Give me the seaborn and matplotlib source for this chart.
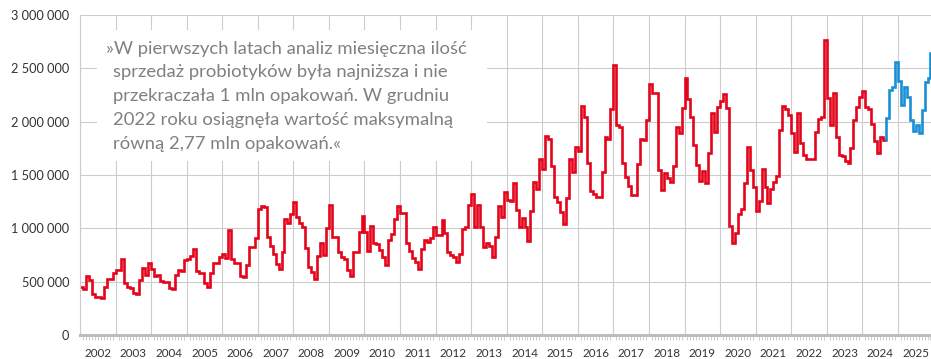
import numpy as np
import pandas as pd
import matplotlib
matplotlib.use("Agg")
import matplotlib.pyplot as plt
import seaborn as sns
from matplotlib.ticker import FixedLocator, FuncFormatter, MultipleLocator
from matplotlib.patches import Rectangle

# Monthly probiotic sales, thousands of packs, January 2002 - August 2024
history = [
    447, 428, 553, 516, 384, 353, 353, 345, 447, 522, 522, 584,          # 2002
    609, 609, 709, 484, 453, 438, 391, 384, 516, 625, 563, 672,          # 2003
    616, 553, 560, 509, 500, 500, 438, 428, 563, 609, 603, 700,          # 2004
    709, 741, 810, 603, 578, 578, 484, 447, 584, 678, 678, 728,          # 2005
    759, 720, 984, 709, 678, 678, 553, 540, 656, 822, 822, 906,          # 2006
    1178, 1212, 1200, 922, 834, 759, 666, 616, 781, 1084, 1053, 1131,    # 2007
    1250, 1109, 1053, 1016, 812, 641, 594, 522, 741, 860, 750, 1000,     # 2008
    1219, 922, 922, 781, 728, 709, 609, 553, 781, 781, 969, 1116,        # 2009
    969, 791, 1022, 866, 853, 797, 728, 656, 891, 950, 1084, 1209,       # 2010
    1141, 1147, 859, 791, 719, 688, 616, 803, 891, 869, 906, 1009,       # 2011
    941, 941, 1075, 953, 781, 750, 734, 688, 759, 991, 1009, 1219,       # 2012
    1322, 1016, 1219, 1016, 822, 866, 834, 728, 916, 1209, 1103, 1344,   # 2013
    1266, 1259, 1428, 1172, 1009, 1094, 1009, 884, 1166, 1438, 1366, 1647,  # 2014
    1553, 1866, 1834, 1584, 1297, 1250, 1153, 1041, 1281, 1647, 1531, 1759,  # 2015
    1728, 2147, 2047, 1616, 1353, 1322, 1291, 1291, 1531, 1853, 1834, 2116,  # 2016
    2531, 1969, 1953, 1616, 1484, 1397, 1313, 1313, 1603, 1834, 1828, 2016,  # 2017
    2353, 2266, 2266, 1547, 1359, 1516, 1469, 1438, 1584, 1953, 1891, 2125,  # 2018
    2406, 2209, 2047, 1781, 1594, 1447, 1541, 1422, 1703, 2078, 1906, 2141,  # 2019
    2197, 2259, 2125, 1022, 866, 959, 1134, 1178, 1428, 1759, 1547, 1391,    # 2020
    1166, 1259, 1553, 1384, 1234, 1366, 1438, 1491, 1922, 2147, 2116, 2063,  # 2021
    1897, 1719, 2084, 1797, 1688, 1647, 1647, 1647, 1906, 2022, 2041, 2770,  # 2022
    2219, 1969, 2266, 1859, 1691, 1681, 1628, 1616, 1753, 2016, 2134, 2228,  # 2023
    2291, 2134, 2116, 1980, 1822, 1706, 1859, 1828,                          # 2024
]

# Latest months, September 2024 - December 2025
recent = [
    2031, 2297, 2322, 2563,                                              # 2024
    2384, 2156, 2322, 2228, 2016, 1916, 1969, 1897, 2109, 2375, 2406, 2641,  # 2025
]

first_year = 2002
year_labels = [str(y) for y in range(2002, 2026)]
y_ticks = [0, 500, 1000, 1500, 2000, 2500, 3000]

note_lines = [
    "»W pierwszych latach analiz miesięczna ilość",
    "sprzedaż probiotyków była najniższa i nie",
    "przekraczała 1 mln opakowań. W grudniu",
    "2022 roku osiągnęła wartość maksymalną",
    "równą 2,77 mln opakowań.«",
]

RED = "#e3051b"
BLUE = "#1a8fd5"
GRID = "#cccccc"

# Step series: each month holds its value until the next month starts
n_hist = len(history)
t_hist = first_year + np.arange(n_hist + 1) / 12
v_hist = history + [history[-1]]
start_recent = first_year + n_hist / 12
t_recent = np.concatenate([[start_recent],
                           start_recent + np.arange(len(recent) + 1) / 12])
v_recent = [history[-1]] + recent + [recent[-1]]

df = pd.concat([
    pd.DataFrame({"t": t_hist, "v": v_hist, "segment": "history"}),
    pd.DataFrame({"t": t_recent, "v": v_recent, "segment": "recent"}),
], ignore_index=True)

sns.set_theme(style="white")
plt.rcParams["font.family"] = ["Lato", "DejaVu Sans"]

W, H = 931, 359
fig = plt.figure(figsize=(W / 100, H / 100), dpi=100)
ax = fig.add_axes([80 / W, 24 / H, 851 / W, 320 / H])
ax.set_axisbelow(True)

sns.lineplot(data=df, x="t", y="v", hue="segment",
             palette={"history": RED, "recent": BLUE},
             drawstyle="steps-post", estimator=None, sort=False,
             legend=False, linewidth=1.9, ax=ax,
             solid_joinstyle="miter")

ax.set_xlim(first_year, first_year + 851 / 35.56)
ax.set_ylim(0, 3000)
ax.set_xlabel("")
ax.set_ylabel("")

# y axis: gridlines with full-unit labels
ax.yaxis.set_major_locator(FixedLocator(y_ticks))
ax.yaxis.set_major_formatter(FuncFormatter(
    lambda v, _: f"{int(round(v * 1000)):,}".replace(",", " ")))
ax.tick_params(axis="y", length=3.6, width=0.8, color=GRID, pad=4,
               labelsize=9.2, labelcolor="#333333")

# x axis: year separators, monthly minor ticks, year names between them
ax.xaxis.set_major_locator(FixedLocator(list(range(2002, 2027))))
ax.xaxis.set_minor_locator(MultipleLocator(1 / 12))
ax.tick_params(axis="x", which="major", length=17.5, width=0.8,
               color=GRID, labelbottom=False)
ax.tick_params(axis="x", which="minor", length=3.8, width=0.6,
               color="#c8c8c8", bottom=True)

ax.grid(True, which="major", color=GRID, linewidth=0.8)

for s in ("top", "right"):
    ax.spines[s].set_visible(False)
ax.spines["left"].set_color(GRID)
ax.spines["left"].set_linewidth(0.8)
ax.spines["bottom"].set_color("#bdbdbd")
ax.spines["bottom"].set_linewidth(2.2)

for i, lab in enumerate(year_labels):
    ax.text(first_year + i + 0.5, -0.058, lab, transform=ax.get_xaxis_transform(),
            ha="center", va="center", fontsize=8.4, color="#333333",
            clip_on=False)

# Quotation box over the upper-left part of the plot
ax.add_patch(Rectangle((97 / W, 1 - 161 / H), 390 / W, 131 / H,
                       transform=fig.transFigure, facecolor="white",
                       edgecolor="none", zorder=1.5, clip_on=False))
baselines = [54, 77.5, 101, 125, 148.5]
for k, (line, yb) in enumerate(zip(note_lines, baselines)):
    x0 = 106 if k == 0 else 113
    fig.text(x0 / W, 1 - yb / H, line, ha="left", va="baseline",
             fontsize=13.3, color="#808080", zorder=5)

fig.savefig("out.png", dpi=100)
